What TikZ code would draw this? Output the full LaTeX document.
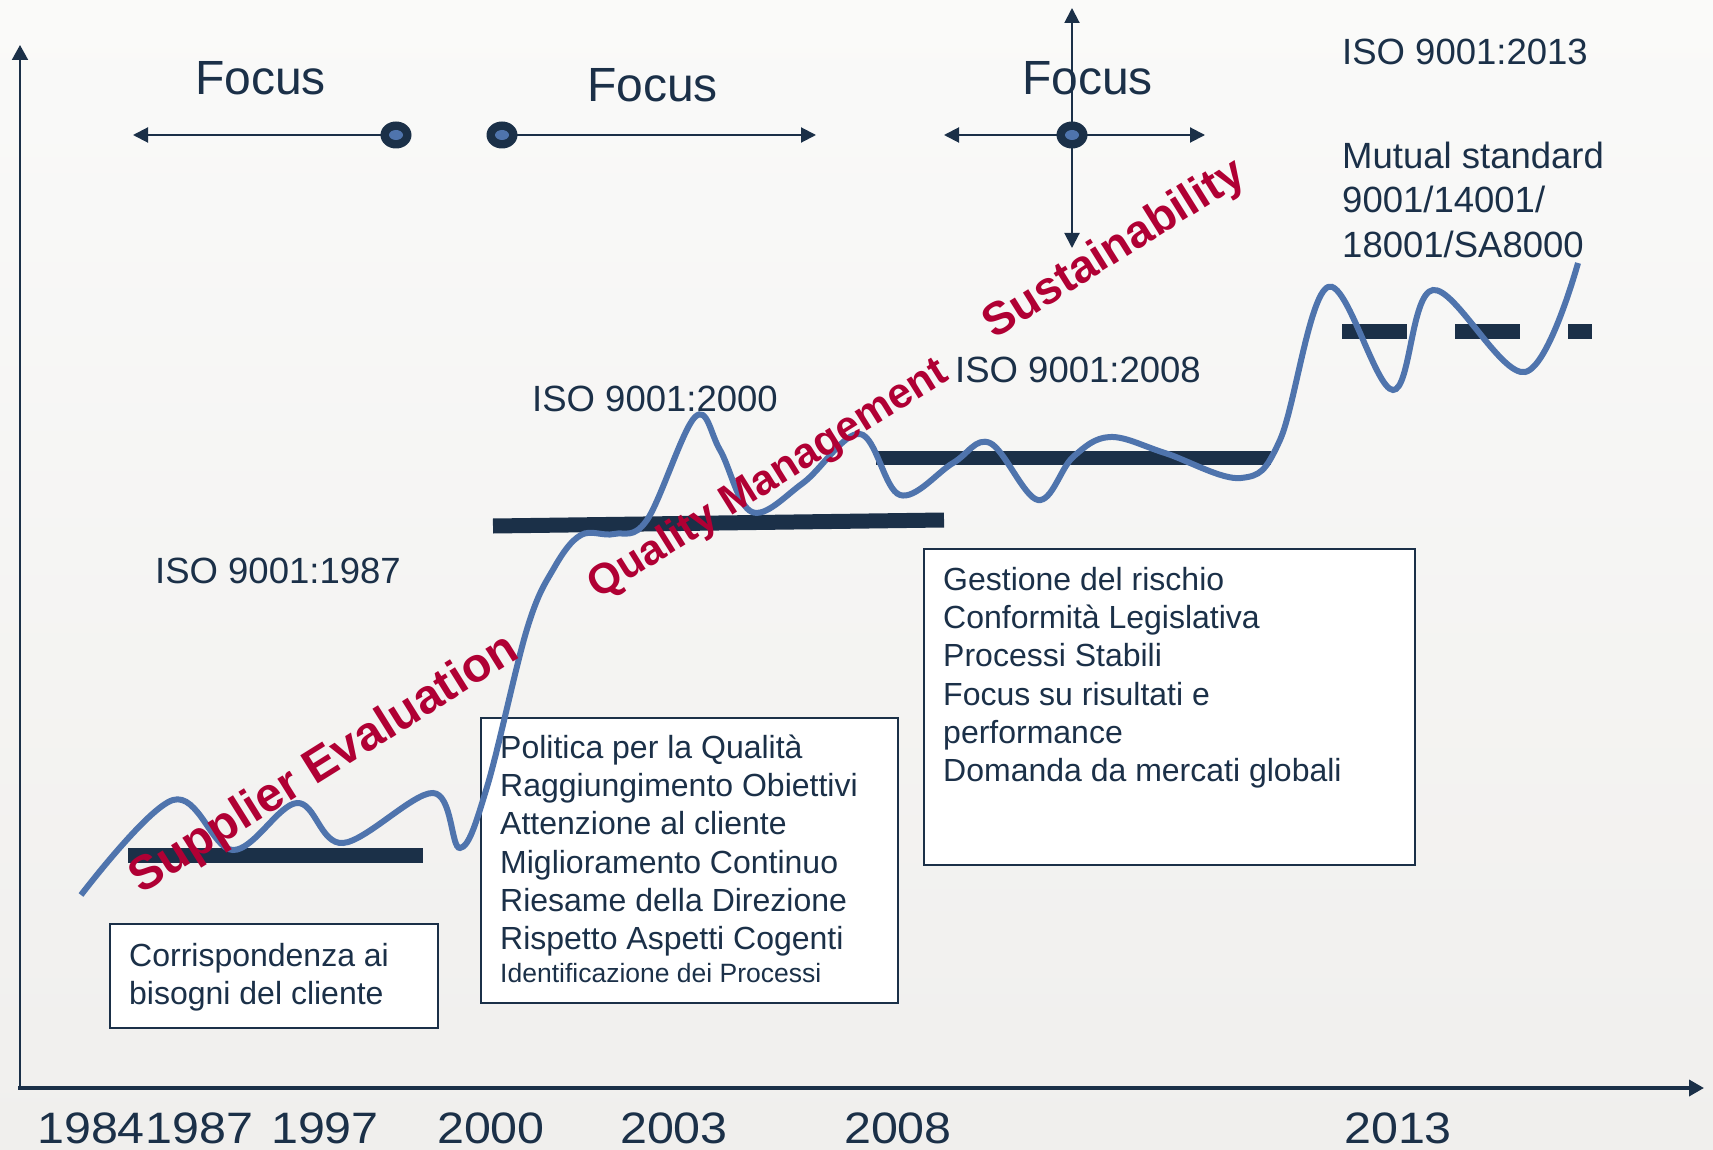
\documentclass[tikz,border=0pt]{standalone}
\usepackage{fontspec}
\setmainfont{Liberation Sans}
\newfontfamily\yearfont[FakeStretch=1.1]{Liberation Sans}
\usetikzlibrary{arrows.meta,positioning}

\definecolor{navy}{HTML}{1B3048}
\definecolor{trendblue}{HTML}{4F74AD}
\definecolor{wine}{HTML}{B00034}
\definecolor{bgtop}{HTML}{FAFAF9}
\definecolor{bgbot}{HTML}{F0EFED}

\tikzset{
  lbl/.style={font=\fontsize{36.5}{44.5}\selectfont, text=navy, inner sep=0pt, anchor=base west},
  focuslbl/.style={lbl, font=\fontsize{48}{56}\selectfont},
  yearlbl/.style={font=\yearfont\fontsize{44}{50}\selectfont, text=navy, inner sep=0pt, anchor=base},
  boxtxt/.style={font=\fontsize{32}{38.3}\selectfont, text=navy, align=left, inner sep=0pt, anchor=north west},
  infobox/.style={draw=navy, line width=2pt, fill=white, anchor=north west, inner sep=0pt},
  levelbar/.style={navy, line width=15pt},
  trend/.style={trendblue, line width=6pt},
  theme/.style={font=\bfseries\fontsize{#1}{#1}\selectfont, text=wine, inner sep=0pt, rotate=32},
  focusarrow/.style={navy, line width=2pt, -{Triangle[length=15pt,width=15pt]}},
  axis/.style={navy, -{Triangle[length=15pt,width=16pt]}},
}

\newcommand\hgtstrut{\rule{0pt}{28pt}}
\NewDocumentCommand{\focusdot}{m}{%
\fill[navy] (#1) ellipse [x radius=15.5, y radius=13.5];%
\fill[trendblue] (#1) ellipse [x radius=7, y radius=5];%
}

\begin{document}
\begin{tikzpicture}[x=1pt, y=-1pt]
\useasboundingbox (0,0) rectangle (1713,1150);
\shade[top color=bgtop, bottom color=bgbot] (0,0) rectangle (1713,1150);

% axes
\coordinate (origin) at (20,1088);
\coordinate (ytip) at (20,45);
\coordinate (xstart) at (18,1088);
\coordinate (xtip) at (1704,1088);
\draw[axis, line width=2pt] (origin) -- (ytip);
\draw[axis, line width=3.5pt] (xstart) -- (xtip);

\node[yearlbl, anchor=base west] (y1984) at (37,1143) {1984};
\node[yearlbl, right=0pt of y1984] (y1987) {1987};
\foreach \yr/\xc in {1997/325,2000/491,2003/674,2008/898,2013/1398}
  \node[yearlbl] (y\yr) at (\xc,1143) {\yr};

% boxes
\node[infobox, minimum width=328, minimum height=104] (box1) at (109,923) {};
\node[infobox, minimum width=417, minimum height=285] (box2) at (480,717) {};
\node[infobox, minimum width=491, minimum height=316] (box3) at (923,548) {};

\node[boxtxt] (needs) at (129,938) {\hgtstrut Corrispondenza ai\\bisogni del cliente};
\node[boxtxt] (iso2000req) at (500,730) {\hgtstrut Politica per la Qualità\\Raggiungimento Obiettivi\\Attenzione al cliente\\Miglioramento Continuo\\Riesame della Direzione\\Rispetto Aspetti Cogenti};
\node[lbl, font=\fontsize{26.5}{30}\selectfont] (procid) at (500,982) {Identificazione dei Processi};
\node[boxtxt] (iso2008req) at (943,562) {\hgtstrut Gestione del rischio\\Conformità Legislativa\\Processi Stabili\\Focus su risultati e\\performance\\Domanda da mercati globali};

% levels
\draw[levelbar] (128,855) -- (423,855);
\draw[levelbar] (493,526) -- (944,520);
\draw[levelbar, line width=14pt] (876,458) -- (1271,458);
\draw[levelbar, dash pattern=on 65pt off 48pt] (1342,331) -- (1592,331);

\draw[trend] plot[smooth, tension=0.6] coordinates {
  (81,895) (173,800) (233,850) (297,803) (343,843) (433,793)
  (460,848) (487,787) (527,629) (554,568) (581,535) (614,534) (647,520)
  (695,417) (720,450) (752,512) (803,483) (860,434) (900,495)
  (953,463) (990,443) (1038,500) (1073,457) (1110,437) (1165,453)
  (1241,478) (1280,440) (1328,287) (1393,390) (1433,290) (1525,372)
  (1578,263)};

% focus
\coordinate (f1) at (396,135);
\coordinate (f1w) at (133,135);
\coordinate (f2) at (502,135);
\coordinate (f2e) at (816,135);
\coordinate (f3) at (1072,135);
\coordinate (f3w) at (944,135);
\coordinate (f3e) at (1205,135);
\coordinate (f3n) at (1072,8);
\coordinate (f3s) at (1072,248);
\draw[focusarrow] (f1) -- (f1w);
\draw[focusarrow] (f2) -- (f2e);
\foreach \e in {f3w,f3e,f3n,f3s}
  \draw[focusarrow] (f3) -- (\e);
\foreach \f in {f1,f2,f3}
  \focusdot{\f};

\node[focuslbl] (focus1) at (195,95) {Focus};
\node[focuslbl] (focus2) at (587,102) {Focus};
\node[focuslbl] (focus3) at (1022,95) {Focus};

\node[lbl] (iso1987) at (155,583) {ISO 9001:1987};
\node[lbl] (iso2000) at (532,411) {ISO 9001:2000};
\node[lbl] (iso2008) at (955,382) {ISO 9001:2008};
\node[lbl] (iso2013) at (1342,65) {ISO 9001:2013};
\node[lbl, anchor=north west, align=left] (mutual) at (1342,138) {\rule{0pt}{30pt}Mutual standard\\9001/14001/\\18001/SA8000};

\node[theme=48] (supev) at (325,765) {Supplier Evaluation};
\node[theme=42.5] (qualman) at (769,480) {Quality Management};
\node[theme=46] (sustain) at (1115,250) {Sustainability};
\end{tikzpicture}
\end{document}
